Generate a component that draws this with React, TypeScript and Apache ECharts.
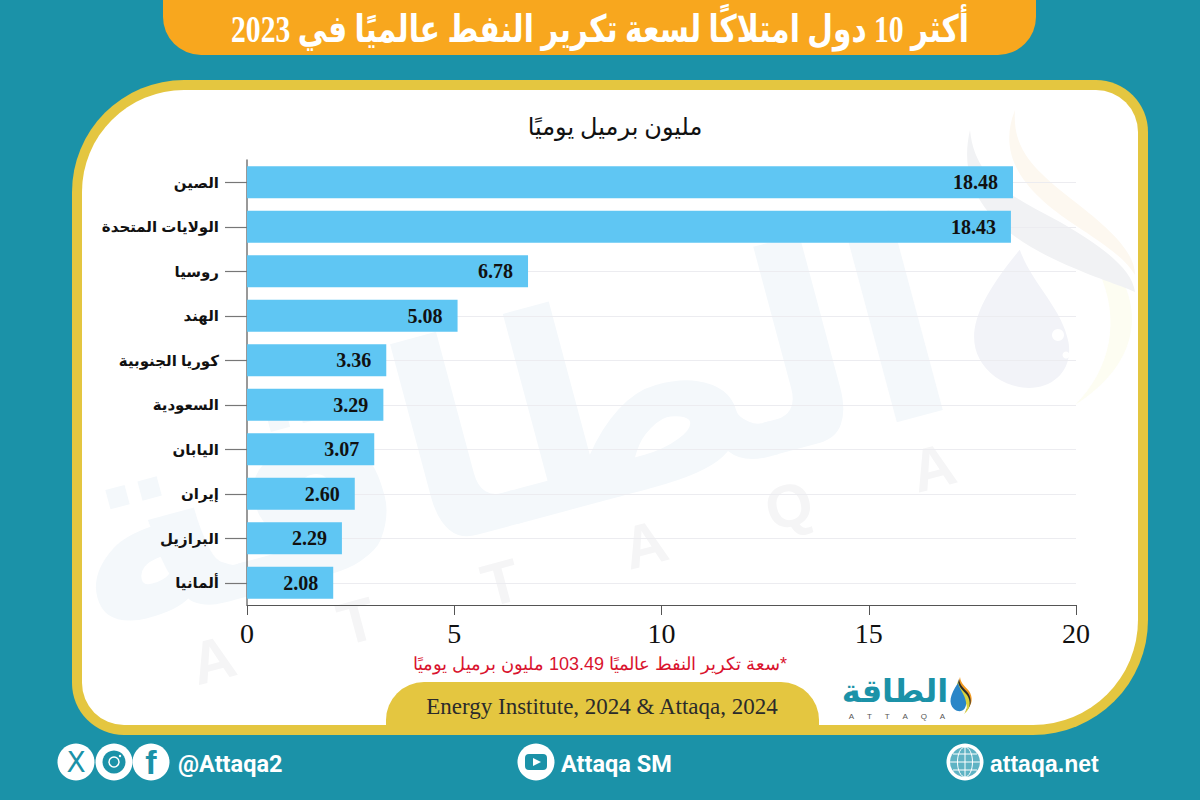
import React, { useEffect, useRef } from "react";
import * as echarts from "echarts";

const countries = ["الصين", "الولايات المتحدة", "روسيا", "الهند", "كوريا الجنوبية", "السعودية", "اليابان", "إيران", "البرازيل", "ألمانيا"];
const capacity = [18.48, 18.43, 6.78, 5.08, 3.36, 3.29, 3.07, 2.6, 2.29, 2.08];
const titleText = "أكثر 10 دول امتلاكًا لسعة تكرير النفط عالميًا في 2023";
const unitText = "مليون برميل يوميًا";
const noteText = "\u200F*سعة تكرير النفط عالميًا 103.49 مليون برميل يوميًا";
const sourceText = "Energy Institute, 2024 & Attaqa, 2024";

const TEAL = "#1b92a8";
const GOLD = "#e4c640";
const ARABIC = "'Liberation Serif','DejaVu Sans',serif";

const reg = (name: string, d: string) => echarts.graphic.registerShape(name, echarts.graphic.extendPath(d as any, {}) as any);
reg("dropBody", "M958 683 C950 695 948 703 954 709 C960 714 967 710 966 702 C965 695 960 690 958 683 Z");
reg("dropStreak", "M960 677 C956 688 962 692 967 698 C970 702 969 706 966 710 C973 705 973 697 969 691 C965 686 961 684 960 677 Z");
reg("bigStreakA", "M970 130 C955 195 1000 235 1060 262 C1095 278 1120 285 1135 292 C1132 268 1100 245 1060 222 C1010 195 975 180 970 130 Z");
reg("bigStreakB", "M1015 110 C995 160 1030 195 1075 225 C1105 245 1125 258 1135 275 C1135 250 1105 225 1070 198 C1035 170 1012 150 1015 110 Z");
reg("bigGlow", "M1105 255 C1145 300 1145 360 1075 405 C1110 370 1122 320 1098 270 Z");

const wmLetters = ["A", "T", "T", "A", "Q", "A"];

function buildGraphics(): any[] {
  const bg: any[] = [
    { type: "rect", z: -5, shape: { x: 0, y: 0, width: 1200, height: 800 }, style: { fill: TEAL } },
    { type: "rect", z: -5, shape: { x: 163, y: -40, width: 873, height: 95, r: [0, 0, 38, 38] }, style: { fill: "#f8a71e" } },
    { type: "rect", z: -5, shape: { x: 72, y: 80, width: 1076, height: 655, r: [112, 52, 115, 52] }, style: { fill: GOLD } },
    { type: "rect", z: -5, shape: { x: 82, y: 90, width: 1056, height: 635, r: [102, 42, 105, 42] }, style: { fill: "#ffffff" } },
    // watermark
    { type: "text", z: -4, x: 503, y: 430, rotation: (15 * Math.PI) / 180, style: { text: "الطاقة", font: "bold 272px 'DejaVu Sans',sans-serif", fill: "#f4f8fb", align: "center", verticalAlign: "middle" } },
    { type: "bigGlow", z: -4, style: { fill: "#fdfdf2" } },
    { type: "bigStreakA", z: -4, style: { fill: "#f1f2f4" } },
    { type: "bigStreakB", z: -4, style: { fill: "#fdf8f0" } },
    { type: "dropBody", z: -4, x: -4824, y: -3097, scaleX: 6.1, scaleY: 4.9, style: { fill: "#f2f3f8" } },
    { type: "circle", z: -4, shape: { cx: 1058, cy: 335, r: 6 }, style: { fill: "#ffffff" } },
    { type: "circle", z: -4, shape: { cx: 1066, cy: 355, r: 3.5 }, style: { fill: "#ffffff" } },
    ...wmLetters.map((ch, i) => ({
      type: "text", z: -4, x: 213 + i * 144, y: 660 - i * 38.5, rotation: (15 * Math.PI) / 180,
      style: { text: ch, font: "bold 60px 'Liberation Sans',sans-serif", fill: "#f5f5f6", align: "center", verticalAlign: "middle" },
    })),
    // source pill
    { type: "rect", z: -3, shape: { x: 386, y: 682, width: 433, height: 53, r: [38, 38, 0, 0] }, style: { fill: GOLD } },
  ];
  const fg: any[] = [
    { type: "text", z: 5, x: 600, y: 29, scaleX: 0.78, style: { text: titleText, font: "bold 38px " + ARABIC, fill: "#ffffff", align: "center", verticalAlign: "middle" } },
    { type: "text", z: 5, x: 615, y: 127, style: { text: unitText, font: "24px " + ARABIC, fill: "#111111", align: "center", verticalAlign: "middle" } },
    { type: "text", z: 5, x: 600, y: 664, style: { text: noteText, font: "18px 'Liberation Sans',sans-serif", fill: "#d9132e", align: "center", verticalAlign: "middle" } },
    { type: "text", z: 5, x: 602, y: 706, style: { text: sourceText, font: "23px 'Liberation Serif',serif", fill: "#2b2b2b", align: "center", verticalAlign: "middle" } },
    // logo
    { type: "text", z: 5, x: 895, y: 691, style: { text: "الطاقة", font: "bold 32px 'DejaVu Sans',sans-serif", fill: TEAL, align: "center", verticalAlign: "middle" } },
    { type: "text", z: 5, x: 897, y: 716, style: { text: "A      T      T      A      Q      A", font: "8px 'Liberation Sans',sans-serif", fill: "#555555", align: "center", verticalAlign: "middle" } },
    { type: "dropStreak", z: 5, x: 0, y: 0, style: { fill: "#f29a21" } },
    { type: "dropStreak", z: 5, x: -1, y: 2, style: { fill: "#2b2b2b" } },
    { type: "dropStreak", z: 5, x: -2, y: 4, style: { fill: "#d9d23a" } },
    { type: "dropBody", z: 5, style: { fill: "#2a86c8" } },
    // social icons
    { type: "circle", z: 5, shape: { cx: 76, cy: 762, r: 18.5 }, style: { fill: "#ffffff" } },
    { type: "text", z: 6, x: 76, y: 762, style: { text: "X", font: "28px 'DejaVu Sans',sans-serif", fill: TEAL, align: "center", verticalAlign: "middle" } },
    { type: "circle", z: 5, shape: { cx: 114, cy: 762, r: 18.5 }, style: { fill: "#ffffff" } },
    { type: "circle", z: 6, shape: { cx: 114, cy: 762, r: 11.5 }, style: { fill: TEAL } },
    { type: "circle", z: 7, shape: { cx: 114, cy: 762, r: 5 }, style: { fill: "none", stroke: "#ffffff", lineWidth: 1.5 } },
    { type: "circle", z: 7, shape: { cx: 120, cy: 756, r: 1.2 }, style: { fill: "#ffffff" } },
    { type: "circle", z: 5, shape: { cx: 151, cy: 762, r: 18.5 }, style: { fill: "#ffffff" } },
    { type: "text", z: 6, x: 151, y: 762, style: { text: "f", font: "bold 34px 'Liberation Sans',sans-serif", fill: TEAL, align: "center", verticalAlign: "middle" } },
    { type: "text", z: 5, x: 178, y: 764, style: { text: "@Attaqa2", font: "bold 23.5px Roboto,sans-serif", fill: "#ffffff", align: "left", verticalAlign: "middle" } },
    { type: "circle", z: 5, shape: { cx: 536, cy: 762, r: 18.5 }, style: { fill: "#ffffff" } },
    { type: "rect", z: 6, shape: { x: 525, y: 754, width: 22, height: 16, r: 4 }, style: { fill: TEAL } },
    { type: "polygon", z: 7, shape: { points: [[533, 758], [541, 762], [533, 766]] }, style: { fill: "#ffffff" } },
    { type: "text", z: 5, x: 561, y: 764, style: { text: "Attaqa SM", font: "bold 23.5px Roboto,sans-serif", fill: "#ffffff", align: "left", verticalAlign: "middle" } },
    { type: "circle", z: 5, shape: { cx: 965, cy: 762, r: 18.5 }, style: { fill: "#ffffff" } },
    { type: "circle", z: 6, shape: { cx: 965, cy: 762, r: 15 }, style: { fill: "#5fb3c4" } },
    { type: "ellipse", z: 7, shape: { cx: 965, cy: 762, rx: 7.5, ry: 15 }, style: { fill: "none", stroke: "#ffffff", lineWidth: 1 } },
    { type: "line", z: 7, shape: { x1: 965, y1: 747, x2: 965, y2: 777 }, style: { stroke: "#ffffff", lineWidth: 1 } },
    { type: "line", z: 7, shape: { x1: 950, y1: 762, x2: 980, y2: 762 }, style: { stroke: "#ffffff", lineWidth: 1 } },
    { type: "line", z: 7, shape: { x1: 953, y1: 754, x2: 977, y2: 754 }, style: { stroke: "#ffffff", lineWidth: 1 } },
    { type: "line", z: 7, shape: { x1: 953, y1: 770, x2: 977, y2: 770 }, style: { stroke: "#ffffff", lineWidth: 1 } },
    { type: "text", z: 5, x: 990, y: 764, style: { text: "attaqa.net", font: "bold 23px 'Liberation Sans',sans-serif", fill: "#ffffff", align: "left", verticalAlign: "middle" } },
  ];
  return [...bg, ...fg];
}

export default function App() {
  const ref = useRef<HTMLDivElement>(null);
  useEffect(() => {
    document.body.style.margin = "0";
    const chart = echarts.init(ref.current!, undefined, { renderer: "svg" });
    chart.setOption({
      animation: false,
      grid: { left: 247, top: 160, width: 829, height: 445, containLabel: false },
      graphic: { elements: buildGraphics() },
      xAxis: {
        type: "value", min: 0, max: 20, interval: 5,
        splitLine: { show: false },
        axisLine: { show: true, lineStyle: { color: "#555555", width: 1.2 } },
        axisTick: { show: true, length: 10, lineStyle: { color: "#555555", width: 1 } },
        axisLabel: { color: "#111111", fontSize: 28, fontFamily: "'Liberation Serif',serif", margin: 14 },
      },
      yAxis: {
        type: "category", inverse: true, data: countries,
        axisLine: { show: true, lineStyle: { color: "#777777", width: 1.5 } },
        axisTick: { show: true, length: 22, alignWithLabel: true, lineStyle: { color: "#777777", width: 1.2 } },
        splitLine: { show: true, alignWithLabel: true, lineStyle: { color: "#ececf0", width: 1 } },
        axisLabel: { color: "#111111", fontSize: 15, fontWeight: "bold", fontFamily: "'Liberation Sans','DejaVu Sans',sans-serif", margin: 28 },
      },
      series: [
        {
          type: "bar", data: capacity, barWidth: 32,
          itemStyle: { color: "#5fc6f3" },
          label: {
            show: true, position: "insideRight", distance: 15,
            formatter: (p: any) => Number(p.value).toFixed(2),
            color: "#111111", fontSize: 20, fontWeight: "bold", fontFamily: "'Liberation Serif',serif",
          },
        },
      ],
    });
    return () => chart.dispose();
  }, []);
  return <div ref={ref} style={{ width: 1200, height: 800 }} />;
}
